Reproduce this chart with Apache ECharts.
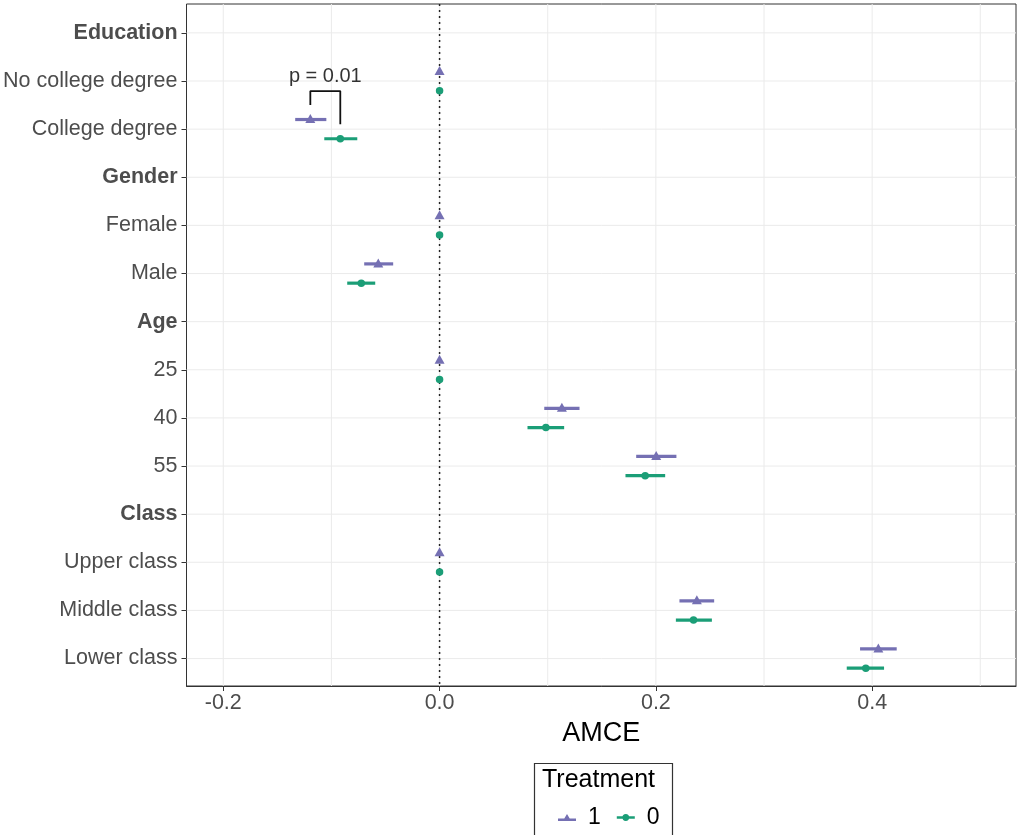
<!DOCTYPE html>
<html>
<head>
<meta charset="utf-8">
<script src="https://cdn.jsdelivr.net/npm/echarts@6/dist/echarts.min.js"></script>
<style>
html,body{margin:0;padding:0;background:#fff;}
#chart{width:1017px;height:835px;}
</style>
</head>
<body>
<div id="chart"></div>
<script>
// ---- data ----
const categories = ['Education','No college degree','College degree','Gender','Female','Male','Age','25','40','55','Class','Upper class','Middle class','Lower class'];
const headers = ['Education','Gender','Age','Class'];
// Treatment 1 (purple triangles)
const t1Est = [null, 0, -0.1195, null, 0, -0.0567, null, 0, 0.1131, 0.2003, null, 0, 0.2379, 0.4057];
const t1Lo  = [null, 0, -0.1335, null, 0, -0.0697, null, 0, 0.0968, 0.1818, null, 0, 0.2218, 0.3888];
const t1Hi  = [null, 0, -0.1047, null, 0, -0.0429, null, 0, 0.1294, 0.2190, null, 0, 0.2539, 0.4227];
// Treatment 0 (green circles)
const t0Est = [null, 0, -0.0918, null, 0, -0.0724, null, 0, 0.0983, 0.1901, null, 0, 0.2348, 0.3941];
const t0Lo  = [null, 0, -0.1066, null, 0, -0.0854, null, 0, 0.0813, 0.1719, null, 0, 0.2185, 0.3765];
const t0Hi  = [null, 0, -0.0761, null, 0, -0.0595, null, 0, 0.1152, 0.2086, null, 0, 0.2518, 0.4110];
const xTickLabels = [-0.2, 0.0, 0.2, 0.4];
const xGridValues = [-0.2, -0.1, 0.0, 0.1, 0.2, 0.3, 0.4, 0.5];
const pLabel = 'p = 0.01';
const pRow = 'College degree';
const treatmentNames = ['1', '0'];

// ---- build ----
const PURPLE = '#7570B3', GREEN = '#1B9E77';
const DODGE = 0.2;
const Y_MIN = 0.4, Y_MAX = 14.57;
const rowPos = categories.map((c, i) => i + 1);

function pts(est, off) {
  const out = [];
  est.forEach((v, i) => { if (v !== null) out.push([v, rowPos[i] + off]); });
  return out;
}
function bars(lo, hi, off) {
  const out = [];
  lo.forEach((v, i) => { if (v !== null && hi[i] !== v) out.push([v, hi[i], rowPos[i] + off]); });
  return out;
}
function errRender(color) {
  return function (params, api) {
    const a = api.coord([api.value(0), api.value(2)]);
    const b = api.coord([api.value(1), api.value(2)]);
    return { type: 'line', shape: { x1: a[0], y1: a[1], x2: b[0], y2: b[1] },
             style: { stroke: color, lineWidth: 3.2 } };
  };
}
function gridRender(vertical, style) {
  return function (params, api) {
    const cs = params.coordSys;
    if (vertical) {
      const p = api.coord([api.value(0), Y_MIN]);
      return { type: 'line', shape: { x1: p[0], y1: cs.y, x2: p[0], y2: cs.y + cs.height }, style: style };
    }
    const p = api.coord([0, api.value(0)]);
    return { type: 'line', shape: { x1: cs.x, y1: p[1], x2: cs.x + cs.width, y2: p[1] }, style: style };
  };
}

const pi = categories.indexOf(pRow);
const bx1 = t1Est[pi], bx0 = t0Est[pi], by = rowPos[pi];
const bracket = [[bx1, by - DODGE - 0.3], [bx1, by - 0.79], [bx0, by - 0.79], [bx0, by + DODGE - 0.3]];

const gridStyle = { stroke: '#EBEBEB', lineWidth: 1 };

const chart = echarts.init(document.getElementById('chart'));
chart.setOption({
  animation: false,
  backgroundColor: '#fff',
  grid: { left: 186, right: 1, top: 4, bottom: 149, show: true, borderColor: '#333', borderWidth: 1, backgroundColor: 'transparent' },
  xAxis: {
    type: 'value', min: -0.234, max: 0.533,
    splitLine: { show: false },
    axisLine: { show: true, onZero: false, lineStyle: { color: '#333', width: 1 } },
    axisTick: { show: true, length: 5, customValues: xTickLabels, lineStyle: { color: '#333' } },
    axisLabel: { customValues: xTickLabels, margin: 6, fontSize: 21.5, color: '#4D4D4D', fontFamily: 'Liberation Sans',
                 formatter: v => v.toFixed(1) },
    name: 'AMCE', nameLocation: 'middle', nameGap: 34,
    nameTextStyle: { fontSize: 27, color: '#000', fontFamily: 'Liberation Sans' }
  },
  yAxis: {
    type: 'value', min: Y_MIN, max: Y_MAX, inverse: true,
    splitLine: { show: false },
    axisLine: { show: false, onZero: false },
    axisTick: { show: true, length: 5, customValues: rowPos, lineStyle: { color: '#333' } },
    axisLabel: {
      customValues: rowPos, margin: 9, fontSize: 21.5, color: '#4D4D4D', fontFamily: 'Liberation Sans',
      formatter: v => {
        const name = categories[Math.round(v) - 1];
        return headers.includes(name) ? '{b|' + name + '}' : name;
      },
      rich: { b: { fontWeight: 'bold', fontSize: 21.5, color: '#4D4D4D', fontFamily: 'Liberation Sans' } }
    }
  },
  legend: {
    left: 553, top: 801, itemWidth: 18, itemHeight: 10, itemGap: 16,
    textStyle: { fontSize: 23, color: '#000', fontFamily: 'Liberation Sans', padding: [0, 0, 0, 7] },
    data: [
      { name: treatmentNames[0], icon: 'path://M0,6H20V9H0Z M10,1L14.5,8.5H5.5Z', itemStyle: { color: PURPLE } },
      { name: treatmentNames[1], icon: 'path://M0,3.5H20V6.5H0Z M10,1.2C12.4,1.2 13.8,2.8 13.8,5C13.8,7.2 12.4,8.8 10,8.8C7.6,8.8 6.2,7.2 6.2,5C6.2,2.8 7.6,1.2 10,1.2Z', itemStyle: { color: GREEN } }
    ]
  },
  graphic: [
    { type: 'rect', left: 532, top: 761, shape: { width: 138, height: 90 }, style: { fill: 'none', stroke: '#333', lineWidth: 1.2 }, z: 10 },
    { type: 'text', left: 542, top: 768, style: { text: 'Treatment', fontSize: 25, fill: '#000', fontFamily: 'Liberation Sans' }, z: 10 }
  ],
  series: [
    { type: 'custom', silent: true, z: 0, renderItem: gridRender(true, gridStyle), data: xGridValues.map(v => [v]), encode: { x: 0 } },
    { type: 'custom', silent: true, z: 0, renderItem: gridRender(false, gridStyle), data: rowPos.map(v => [v]), encode: { y: 0 } },
    { // reference line at 0
      type: 'line', data: [[0, Y_MIN], [0, Y_MAX]], symbol: 'none', silent: true, z: 1,
      lineStyle: { color: '#222', width: 1.5, type: [2, 4] }
    },
    { name: treatmentNames[0], type: 'custom', renderItem: errRender(PURPLE), data: bars(t1Lo, t1Hi, -DODGE),
      encode: { x: [0, 1], y: 2 }, z: 3, itemStyle: { color: PURPLE } },
    { name: treatmentNames[1], type: 'custom', renderItem: errRender(GREEN), data: bars(t0Lo, t0Hi, DODGE),
      encode: { x: [0, 1], y: 2 }, z: 3, itemStyle: { color: GREEN } },
    { name: treatmentNames[0], type: 'scatter', symbol: 'triangle', symbolSize: [10, 9], symbolOffset: [0, -1],
      data: pts(t1Est, -DODGE), itemStyle: { color: PURPLE, opacity: 1 }, z: 4 },
    { name: treatmentNames[1], type: 'scatter', symbol: 'circle', symbolSize: 7.5,
      data: pts(t0Est, DODGE), itemStyle: { color: GREEN, opacity: 1 }, z: 4 },
    { // significance bracket
      type: 'line', data: bracket, symbol: 'none', silent: true, z: 5,
      lineStyle: { color: '#111', width: 1.8 }
    },
    { // p-value label
      type: 'scatter', data: [[(bx1 + bx0) / 2, by - 1.1]], symbolSize: 0, silent: true, z: 5,
      label: { show: true, position: 'inside', formatter: pLabel, fontSize: 20, color: '#000', fontFamily: 'Liberation Sans' }
    }
  ]
});
</script>
</body>
</html>
